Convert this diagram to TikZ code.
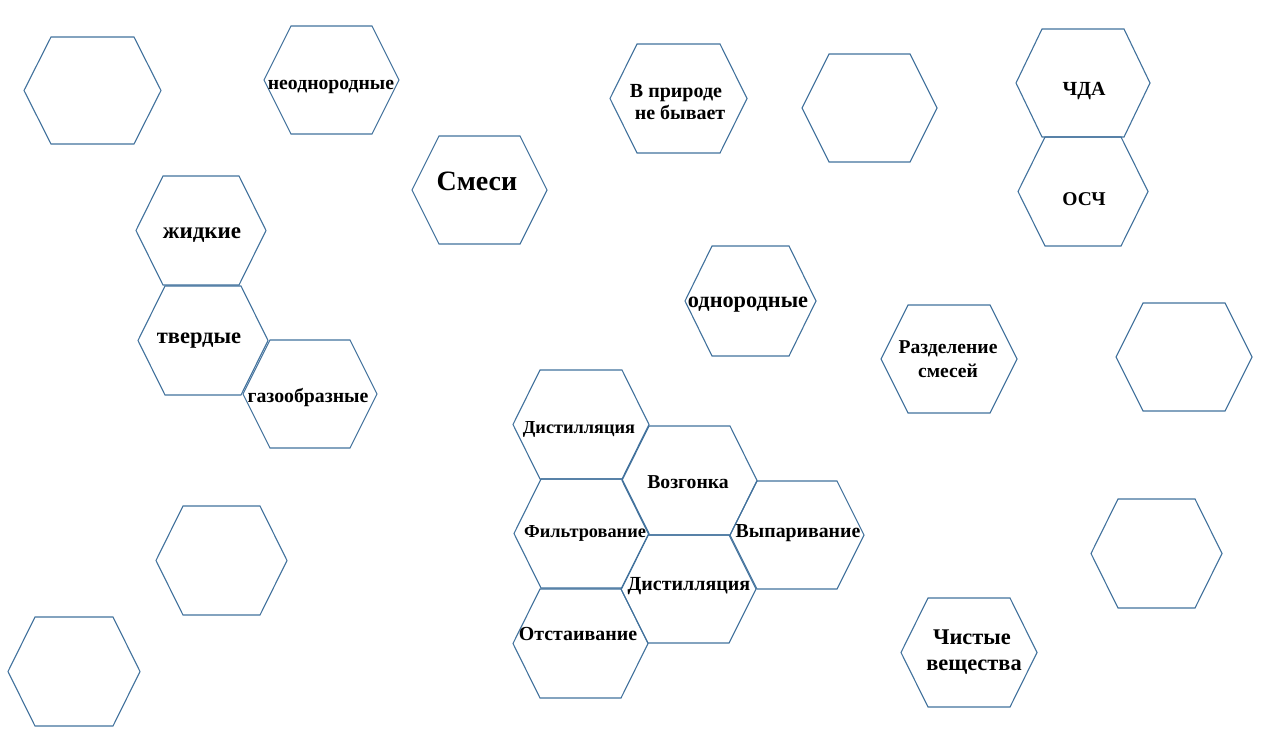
\documentclass[tikz,border=0pt]{standalone}
\usepackage{fontspec}
\setmainfont{Liberation Serif}
\definecolor{hexblue}{RGB}{65,113,156}
\tikzset{
  hexline/.style={draw=hexblue, line width=1.1pt, line join=miter},
  lbl/.style={anchor=base, inner sep=0pt, font=\bfseries, text=black},
}
% left, top, right, bottom, inset
\newcommand\hexa[5]{%
  \draw[hexline] (#1,{(#2+#4)/2}) -- (#1+#5,#2) -- (#3-#5,#2) -- (#3,{(#2+#4)/2}) -- (#3-#5,#4) -- (#1+#5,#4) -- cycle;}
\newcommand\fs[1]{\fontsize{#1}{#1}\selectfont}
\begin{document}
\begin{tikzpicture}[x=1pt,y=-1pt]
\useasboundingbox (0,0) rectangle (1265,739);
% hexagons
\hexa{24}{37}{161}{144}{27}
\hexa{264}{26}{399}{134}{27}
\hexa{412}{136}{547}{244}{27}
\hexa{610}{44}{747}{153}{27}
\hexa{802}{54}{937}{162}{27}
\hexa{1016}{29}{1150}{137}{26}
\hexa{1018}{137}{1148}{246}{27}
\hexa{136}{176}{266}{285}{27}
\hexa{138}{286}{268}{395}{27}
\hexa{243}{340}{377}{448}{27}
\hexa{685}{246}{816}{356}{27}
\hexa{881}{305}{1017}{413}{27}
\hexa{1116}{303}{1252}{411}{27}
\hexa{513}{370}{649}{479}{27}
\hexa{622}{426}{757}{535}{27}
\hexa{730}{481}{864}{589}{27}
\hexa{514}{479}{649}{588}{27}
\hexa{621}{535}{756}{643}{27}
\hexa{513}{589}{648}{698}{27}
\hexa{156}{506}{287}{615}{27}
\hexa{8}{617}{140}{726}{27}
\hexa{901}{598}{1037}{707}{27}
\hexa{1091}{499}{1222}{608}{27}
% labels
\node[lbl] (neodn) at (331,89) {\fs{19.7}неоднородные};
\node[lbl] (smesi) at (477,190) {\fs{28}Смеси};
\node[lbl] (vpr1) at (676,97) {\fs{20}В природе};
\node[lbl] (vpr2) at (680,119) {\fs{20}не бывает};
\node[lbl] (chda) at (1084,95) {\fs{20}ЧДА};
\node[lbl] (osch) at (1084,205) {\fs{19.5}ОСЧ};
\node[lbl] (zhid) at (202,238) {\fs{23}жидкие};
\node[lbl] (tverd) at (199,343) {\fs{22.5}твердые};
\node[lbl] (gaz) at (308,402) {\fs{19.8}газообразные};
\node[lbl] (odn) at (748,307) {\fs{22.3}однородные};
\node[lbl] (razd1) at (948,353) {\fs{19.6}Разделение};
\node[lbl] (razd2) at (948,377) {\fs{19.6}смесей};
\node[lbl] (chist1) at (972,644) {\fs{22.4}Чистые};
\node[lbl] (chist2) at (974,670) {\fs{22.4}вещества};
\node[lbl] (dist1) at (579,433) {\fs{18.3}Дистилляция};
\node[lbl] (vozg) at (688,488) {\fs{19.7}Возгонка};
\node[lbl] (vyp) at (798,537) {\fs{19.8}Выпаривание};
\node[lbl] (filt) at (585,537) {\fs{18.3}Фильтрование};
\node[lbl] (dist2) at (689,590) {\fs{20}Дистилляция};
\node[lbl] (otst) at (578,640) {\fs{19.9}Отстаивание};
\end{tikzpicture}
\end{document}
